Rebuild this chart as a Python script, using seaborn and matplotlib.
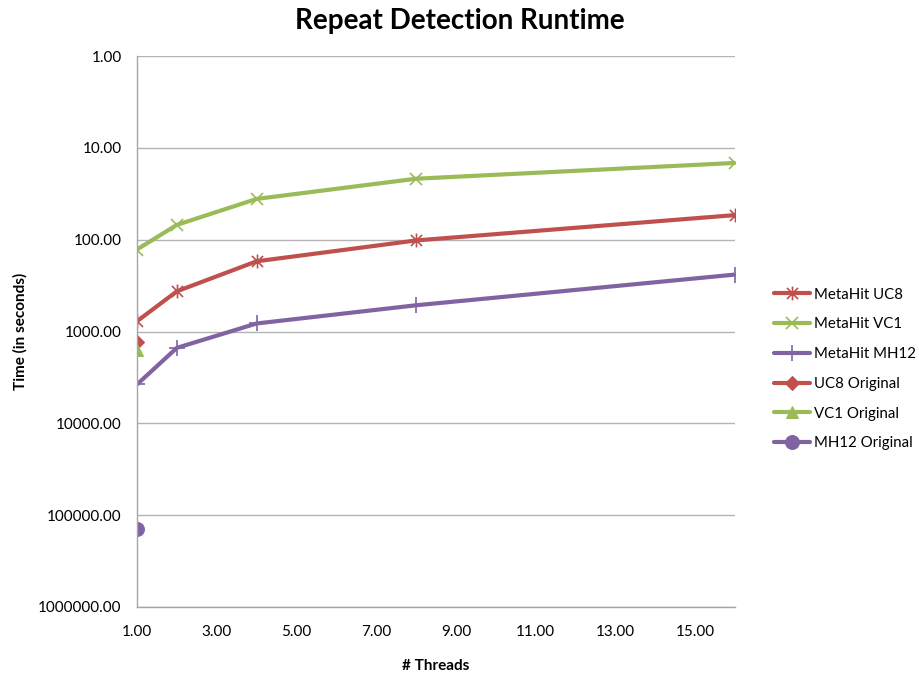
import matplotlib
matplotlib.use("Agg")
import matplotlib.pyplot as plt
import seaborn as sns
import pandas as pd
from matplotlib.path import Path
from matplotlib.ticker import FixedLocator, FuncFormatter, NullLocator

threads = [1, 2, 4, 8, 16]
uc8 = [773, 365, 172, 102, 54]
vc1 = [128, 69, 36, 21.7, 14.6]
mh12 = [3770, 1507, 818, 518, 240]
orig_threads = [1]
uc8_orig = [1306]
vc1_orig = [1610]
mh12_orig = [140600]
x_ticks = [1, 3, 5, 7, 9, 11, 13, 15]
y_ticks = [1, 10, 100, 1000, 10000, 100000, 1000000]

red = "#C0504D"
green = "#9BBB59"
purple = "#8064A2"

# Excel-style asterisk: X with a vertical bar
star_path = Path(
    [(-1, -1), (1, 1), (-1, 1), (1, -1), (0, -1.25), (0, 1.25)],
    [Path.MOVETO, Path.LINETO, Path.MOVETO, Path.LINETO, Path.MOVETO, Path.LINETO],
)

sns.set_theme(style="white")
plt.rcParams["font.family"] = ["Lato", "DejaVu Sans"]
plt.rcParams["text.color"] = "black"
plt.rcParams["axes.labelcolor"] = "black"

fig = plt.figure(figsize=(9.2, 6.79), dpi=100)
ax = fig.add_axes([137 / 920, 1 - 607 / 679, (735 - 137) / 920, (607 - 56) / 679])

series = [
    ("MetaHit UC8", threads, uc8, red, star_path, 10, 1.2),
    ("MetaHit VC1", threads, vc1, green, "x", 9, 1.2),
    ("MetaHit MH12", threads, mh12, purple, "+", 11, 1.2),
]
for name, xs, ys, col, mk, ms, mew in series:
    df = pd.DataFrame({"x": xs, "y": ys})
    sns.lineplot(data=df, x="x", y="y", ax=ax, color=col, linewidth=3,
                 marker=mk, markersize=ms, markeredgewidth=mew,
                 markeredgecolor=col, markerfacecolor="none", label=name)

originals = [
    ("UC8 Original", orig_threads, uc8_orig, red, "D", 7),
    ("VC1 Original", orig_threads, vc1_orig, green, "^", 9),
    ("MH12 Original", orig_threads, mh12_orig, purple, "o", 10),
]
for name, xs, ys, col, mk, ms in originals:
    df = pd.DataFrame({"x": xs, "y": ys})
    sns.lineplot(data=df, x="x", y="y", ax=ax, color=col, linewidth=3,
                 marker=mk, markersize=ms, markeredgecolor=col, label=name)

ax.set_yscale("log")
ax.set_ylim(1e6, 1)
ax.set_xlim(1, 16)
ax.yaxis.set_major_locator(FixedLocator(y_ticks))
ax.yaxis.set_minor_locator(NullLocator())
ax.yaxis.set_major_formatter(FuncFormatter(lambda v, p: f"{v:.2f}"))
ax.xaxis.set_major_locator(FixedLocator(x_ticks))
ax.xaxis.set_major_formatter(FuncFormatter(lambda v, p: f"{v:.2f}"))

ax.grid(axis="y", color="#B3B3B3", linewidth=1)
ax.grid(axis="x", visible=False)
ax.set_axisbelow(True)
for s in ["top", "right"]:
    ax.spines[s].set_visible(False)
for s in ["left", "bottom"]:
    ax.spines[s].set_color("#A6A6A6")
    ax.spines[s].set_linewidth(1)
ax.tick_params(axis="both", which="major", direction="out", length=5,
               width=1, color="#A6A6A6", labelsize=11, labelcolor="#000000")
ax.tick_params(axis="y", pad=6)
ax.tick_params(axis="x", pad=8)

ax.set_xlabel("# Threads", fontsize=11, fontweight="bold", labelpad=14, color="black")
ax.set_ylabel("Time (in seconds)", fontsize=11, fontweight="bold", labelpad=8, color="black")
fig.text(0.5, 1 - 21 / 679, "Repeat Detection Runtime", ha="center", va="center",
         fontsize=20, fontweight="bold", color="black")

handles, labels = ax.get_legend_handles_labels()
if ax.get_legend():
    ax.get_legend().remove()
fig.legend(handles, labels, loc="center left",
           bbox_to_anchor=(774 / 920, 1 - 369 / 679),
           frameon=False, fontsize=10.8, handlelength=2.4, labelspacing=1.05,
           handletextpad=0.25, borderaxespad=0, borderpad=0, labelcolor="black")

fig.savefig("out.png", dpi=100)
